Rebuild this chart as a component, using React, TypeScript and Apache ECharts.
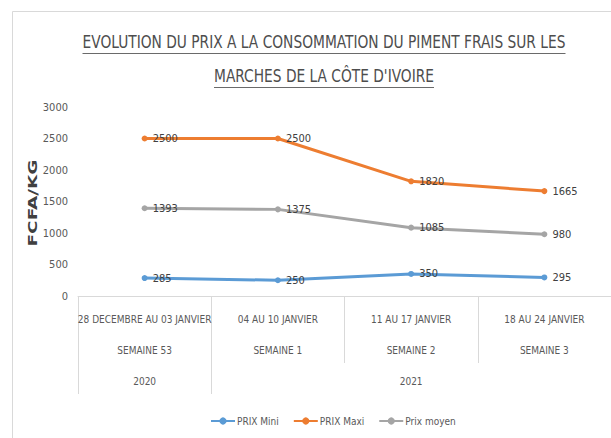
import React, { useEffect, useRef } from "react";
import * as echarts from "echarts";

const periods = ["28 DECEMBRE AU 03 JANVIER", "04 AU 10 JANVIER", "11 AU 17 JANVIER", "18 AU 24 JANVIER"];
const weeks = ["SEMAINE 53", "SEMAINE 1", "SEMAINE 2", "SEMAINE 3"];
const years = ["2020", "2021"];
const yearSpans = [1, 3];
const prixMini = [285, 250, 350, 295];
const prixMaxi = [2500, 2500, 1820, 1665];
const prixMoyen = [1393, 1375, 1085, 980];
const seriesNames = ["PRIX Mini", "PRIX Maxi", "Prix moyen"];
const yMin = 0;
const yMax = 3000;
const yInterval = 500;
const titleLines = [
  "EVOLUTION DU PRIX A LA CONSOMMATION DU PIMENT FRAIS SUR LES",
  "MARCHES DE LA CÔTE D'IVOIRE",
];
const yAxisTitle = "FCFA/KG";

const NARROW = "'DejaVu Sans Condensed', 'Liberation Sans Narrow', 'Liberation Sans', sans-serif";

function measure(text: string, font: string): number {
  const c = document.createElement("canvas").getContext("2d");
  if (!c) return 1;
  c.font = font;
  return c.measureText(text).width || 1;
}

export default function App() {
  const ref = useRef<HTMLDivElement>(null);
  useEffect(() => {
    if (!ref.current) return;
    const chart = echarts.init(ref.current, null, { renderer: "svg" });

    const bounds: number[] = [0];
    const centres: number[] = [];
    let acc = 0;
    yearSpans.forEach((s) => {
      centres.push(acc + s / 2);
      acc += s;
      bounds.push(acc);
    });
    const yearBounds = bounds.slice(0, bounds.length - 1);

    const titleFont = `18px ${NARROW}`;
    const tW = [483, 220];
    const tY = [42, 76];
    const tX = 324;
    const titleGraphics: any[] = [];
    titleLines.forEach((t, i) => {
      const w = measure(t, titleFont);
      titleGraphics.push({
        type: "text",
        x: tX,
        y: tY[i],
        scaleX: tW[i] / w,
        style: {
          text: t,
          fontSize: 18,
          fontFamily: NARROW,
          fill: "#4d4d4d",
          align: "center",
          verticalAlign: "middle",
        },
      });
      titleGraphics.push({
        type: "line",
        shape: { x1: tX - tW[i] / 2, y1: tY[i] + 11.5, x2: tX + tW[i] / 2, y2: tY[i] + 11.5 },
        style: { stroke: "#6a6a6a", lineWidth: 1 },
      });
    });

    const yFont = `bold 13px 'DejaVu Sans', sans-serif`;
    const yW = measure(yAxisTitle, yFont);

    const colors = ["#5B9BD5", "#ED7D31", "#A5A5A5"];
    const datasets = [prixMini, prixMaxi, prixMoyen];

    chart.setOption({
      animation: false,
      backgroundColor: "#ffffff",
      color: colors,
      graphic: [
        {
          type: "rect",
          shape: { x: 12.5, y: 11.5, width: 700, height: 500 },
          style: { fill: "none", stroke: "#d9d9d9", lineWidth: 1 },
          silent: true,
        },
        ...titleGraphics,
        {
          type: "text",
          x: 33,
          y: 203,
          rotation: Math.PI / 2,
          scaleX: 87 / yW,
          style: {
            text: yAxisTitle,
            fontSize: 13,
            fontWeight: "bold",
            fontFamily: "'DejaVu Sans', sans-serif",
            fill: "#404040",
            align: "center",
            verticalAlign: "middle",
          },
        },
      ],
      legend: {
        data: seriesNames,
        left: 205,
        top: 411,
        itemWidth: 24,
        itemHeight: 9,
        itemGap: 14,
        textStyle: { fontSize: 10, fontFamily: NARROW, color: "#595959", padding: [0, 0, 0, -3] },
      },
      grid: { left: 78, top: 107, width: 549, height: 189, containLabel: false },
      xAxis: [
        {
          type: "category",
          data: periods.map((p, i) => `${p}\n${weeks[i]}`),
          position: "bottom",
          offset: 0,
          axisLine: { show: true, lineStyle: { color: "#d9d9d9", width: 1 } },
          axisTick: { show: true, interval: 0, length: 67, lineStyle: { color: "#d9d9d9" } },
          axisLabel: {
            interval: 0,
            margin: 8,
            lineHeight: 31,
            fontSize: 10,
            fontFamily: NARROW,
            color: "#595959",
          },
          splitLine: { show: false },
        },
        {
          type: "value",
          min: 0,
          max: acc,
          position: "bottom",
          offset: 0,
          axisLine: { show: false },
          splitLine: { show: false },
          axisTick: {
            show: true,
            customValues: yearBounds,
            length: 98,
            lineStyle: { color: "#d9d9d9" },
          },
          axisLabel: {
            show: true,
            customValues: centres,
            formatter: (v: number) => {
              const idx = centres.findIndex((c) => Math.abs(c - v) < 1e-6);
              return idx >= 0 ? years[idx] : "";
            },
            margin: 70,
            lineHeight: 31,
            fontSize: 10,
            fontFamily: NARROW,
            color: "#595959",
          },
        },
      ],
      yAxis: {
        type: "value",
        min: yMin,
        max: yMax,
        interval: yInterval,
        axisLine: { show: false },
        axisTick: { show: false },
        splitLine: { show: false },
        axisLabel: {
          margin: 10,
          fontSize: 11,
          fontFamily: NARROW,
          color: "#595959",
          formatter: (v: number) => String(v),
        },
      },
      series: datasets.map((d, i) => ({
        name: seriesNames[i],
        type: "line",
        data: d,
        xAxisIndex: 0,
        yAxisIndex: 0,
        symbol: "circle",
        symbolSize: 6,
        lineStyle: { width: 3, color: colors[i] },
        itemStyle: { color: colors[i] },
        label: {
          show: true,
          position: "right",
          distance: 5,
          fontSize: 11,
          fontFamily: NARROW,
          color: "#404040",
        },
      })),
    });
    return () => chart.dispose();
  }, []);
  return (
    <div
      ref={ref}
      style={{ position: "fixed", left: 0, top: 0, width: 611, height: 438, background: "#fff" }}
    />
  );
}
